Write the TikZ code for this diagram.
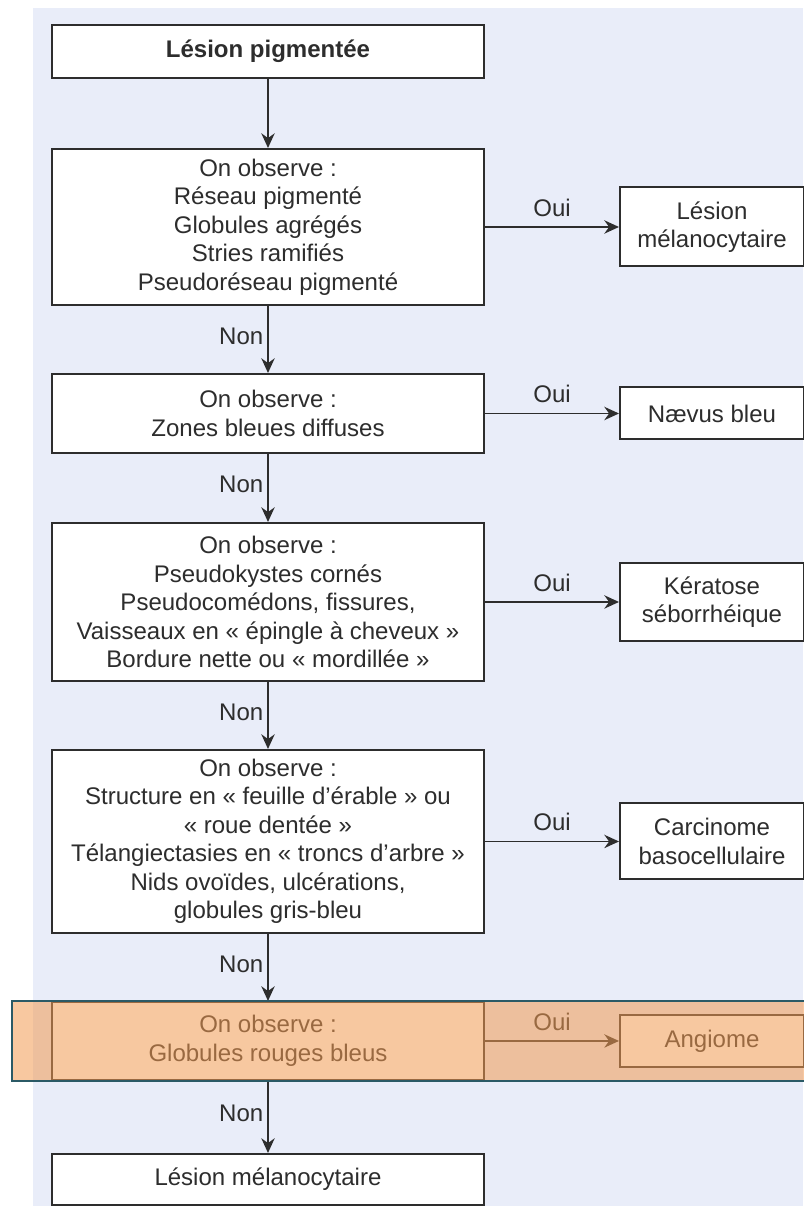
\documentclass[tikz,border=0pt]{standalone}
\usepackage{fontspec}
\setmainfont{Liberation Sans}
\usetikzlibrary{arrows.meta,positioning}
\definecolor{PanelLavender}{RGB}{233,237,249}
\definecolor{InkGray}{RGB}{45,45,45}
\definecolor{HighOrange}{RGB}{242,155,82}
\definecolor{HighTeal}{RGB}{43,90,102}
\tikzset{
  questbox/.style={draw=InkGray,line width=1.7pt,fill=white,text=InkGray,
    minimum width=12.96cm,inner ysep=2pt,align=center,
    font=\fontsize{20.5}{24.3}\selectfont},
  answerbox/.style={draw=InkGray,line width=1.7pt,fill=white,text=InkGray,
    minimum width=5.52cm,inner ysep=2pt,align=center,
    font=\fontsize{20.5}{24.3}\selectfont},
  flowarrow/.style={-{Stealth[length=0.44cm,width=0.4cm]},
    line width=1.5pt,draw=InkGray},
  flowlabel/.style={text=InkGray,font=\fontsize{20.5}{24.3}\selectfont},
}
\begin{document}
\begin{tikzpicture}
  \useasboundingbox (0,0) rectangle (24.09,-36.18);
  \fill[PanelLavender] (0.99,-0.24) rectangle (24.09,-36.18);
  \node[questbox,minimum height=1.59cm,font=\fontsize{20.5}{24.3}\selectfont\bfseries] (start) at (8.04,-1.545)
    {Lésion pigmentée};
  \node[questbox,below=2.07cm of start,minimum height=4.68cm] (reseau)
    {On observe :\\Réseau pigmenté\\Globules agrégés\\Stries ramifiés\\Pseudoréseau pigmenté};
  \node[questbox,below=2.01cm of reseau,minimum height=2.37cm] (zones)
    {On observe :\\Zones bleues diffuses};
  \node[questbox,below=2.04cm of zones,minimum height=4.74cm] (kystes)
    {On observe :\\Pseudokystes cornés\\Pseudocomédons, fissures,\\Vaisseaux en « épingle à cheveux »\\Bordure nette ou « mordillée »};
  \node[questbox,below=2.01cm of kystes,minimum height=5.49cm] (erable)
    {On observe :\\Structure en « feuille d’érable » ou\\« roue dentée »\\Télangiectasies en « troncs d’arbre »\\Nids ovoïdes, ulcérations,\\globules gris-bleu};
  \node[questbox,below=2.01cm of erable,minimum height=2.34cm] (globules)
    {On observe :\\Globules rouges bleus};
  \node[questbox,below=2.16cm of globules,minimum height=1.53cm] (final)
    {Lésion mélanocytaire};
  \node[answerbox,right=4.02cm of reseau,minimum height=2.37cm] (melano)
    {Lésion\\mélanocytaire};
  \node[answerbox,right=4.02cm of zones,minimum height=1.56cm] (naevus)
    {Nævus bleu};
  \node[answerbox,right=4.02cm of kystes,minimum height=2.34cm] (keratose)
    {Kératose\\séborrhéique};
  \node[answerbox,right=4.02cm of erable,minimum height=2.28cm] (carcinome)
    {Carcinome\\basocellulaire};
  \node[answerbox,right=4.02cm of globules,minimum height=1.56cm] (angiome)
    {Angiome};
  \draw[flowarrow] (start) -- (reseau);
  \draw[flowarrow] (reseau) -- node[flowlabel,left,yshift=3pt]{Non} (zones);
  \draw[flowarrow] (zones) -- node[flowlabel,left,yshift=3pt]{Non} (kystes);
  \draw[flowarrow] (kystes) -- node[flowlabel,left,yshift=3pt]{Non} (erable);
  \draw[flowarrow] (erable) -- node[flowlabel,left,yshift=3pt]{Non} (globules);
  \draw[flowarrow] (globules) -- node[flowlabel,left,yshift=3pt]{Non} (final);
  \draw[flowarrow] (reseau) -- node[flowlabel,above=5pt]{Oui} (melano);
  \draw[flowarrow] (zones) -- node[flowlabel,above=5pt]{Oui} (naevus);
  \draw[flowarrow] (kystes) -- node[flowlabel,above=5pt]{Oui} (keratose);
  \draw[flowarrow] (erable) -- node[flowlabel,above=5pt]{Oui} (carcinome);
  \draw[flowarrow] (globules) -- node[flowlabel,above=5pt]{Oui} (angiome);
  \coordinate (hlw) at (0.36,0);
  \coordinate (hle) at (24.4,0);
  \fill[HighOrange,opacity=0.55] (hlw |- globules.north) rectangle (hle |- globules.south);
  \draw[HighTeal,line width=1.5pt] (hlw |- globules.north) rectangle (hle |- globules.south);
\end{tikzpicture}
\end{document}
